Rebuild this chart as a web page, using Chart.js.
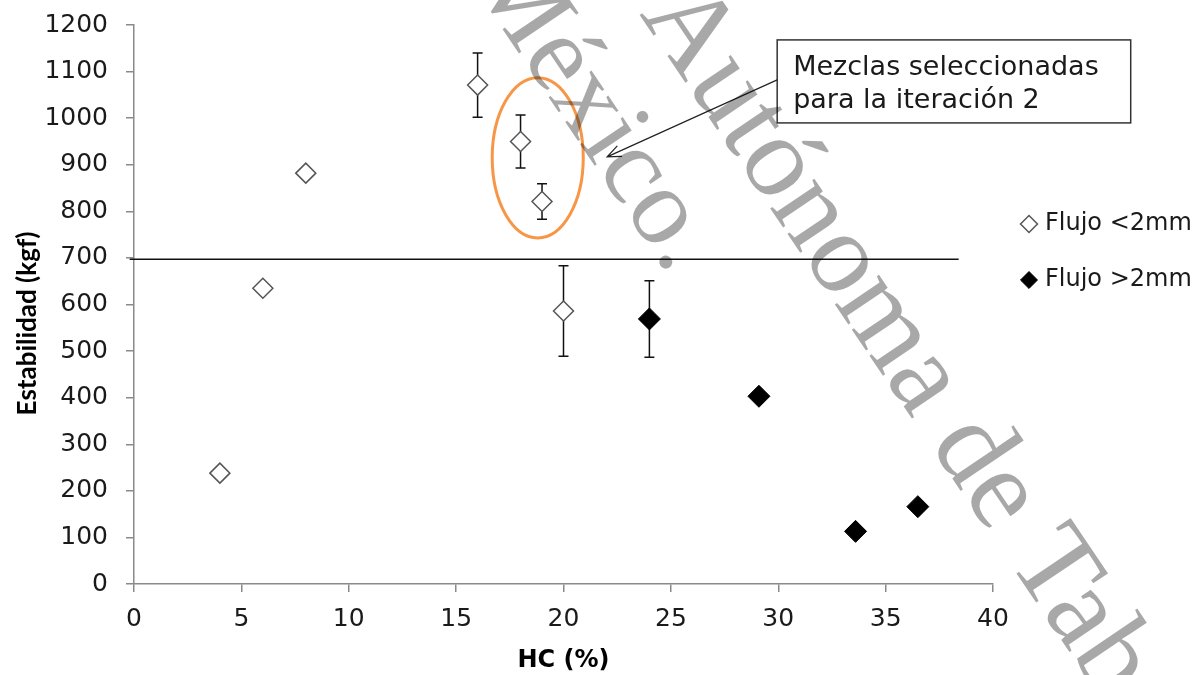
<!DOCTYPE html>
<html>
<head>
<meta charset="utf-8">
<script src="https://cdn.jsdelivr.net/npm/chart.js@4.4.0/dist/chart.umd.min.js"></script>
<style>
  html, body { margin: 0; padding: 0; background: #fff; }
  .chart-container { position: relative; width: 1199px; height: 675px; }
</style>
</head>
<body>
<div class="chart-container"><canvas id="myChart"></canvas></div>
<script>
// data
const hcLow = [4, 6, 8, 16, 18, 19, 20];
const estLow = [238, 635, 882, 1071, 950, 821, 586];
const errLow = [0, 0, 0, 69, 57, 38, 97];

const hcHigh = [24, 29.1, 33.6, 36.5];
const estHigh = [569, 403, 113, 166];
const errHigh = [82, 0, 0, 0];

const limitX = [-0.2, 38.4];
const limitY = [697, 697];

const xTickValues = [0, 5, 10, 15, 20, 25, 30, 35, 40];
const yTickValues = [0, 100, 200, 300, 400, 500, 600, 700, 800, 900, 1000, 1100, 1200];

const seriesLabels = ['Flujo <2mm', 'Flujo >2mm'];
const noteLines = ['Mezclas seleccionadas', 'para la iteración 2'];

const FONT = 'DejaVu Sans';
const TEXT = '#1a1a1a';
const AXIS = '#8a8a8a';

const toPoints = (xs, ys) => xs.map((v, i) => ({ x: v, y: ys[i] }));

const errorBars = {
  id: 'errorBars',
  beforeDatasetsDraw(chart) {
    const { ctx, scales: { x, y } } = chart;
    ctx.save();
    ctx.strokeStyle = '#111';
    ctx.lineWidth = 1.5;
    [[hcLow, estLow, errLow], [hcHigh, estHigh, errHigh]].forEach(([xs, ys, es]) => {
      xs.forEach((v, i) => {
        if (!es[i]) return;
        const px = x.getPixelForValue(v);
        const top = y.getPixelForValue(ys[i] + es[i]);
        const bot = y.getPixelForValue(ys[i] - es[i]);
        ctx.beginPath();
        ctx.moveTo(px, top); ctx.lineTo(px, bot);
        ctx.moveTo(px - 5, top); ctx.lineTo(px + 5, top);
        ctx.moveTo(px - 5, bot); ctx.lineTo(px + 5, bot);
        ctx.stroke();
      });
    });
    ctx.restore();
  }
};

// orange ellipse + callout box with arrow
const callout = {
  id: 'callout',
  afterDatasetsDraw(chart) {
    const { ctx, scales: { x, y } } = chart;
    ctx.save();
    const cx = x.getPixelForValue(18.8), cy = y.getPixelForValue(915);
    const rx = x.getPixelForValue(18.8 + 2.12) - cx;
    const ry = cy - y.getPixelForValue(915 + 172);
    ctx.beginPath();
    ctx.ellipse(cx, cy, rx, ry, 0, 0, Math.PI * 2);
    ctx.strokeStyle = '#F79646';
    ctx.lineWidth = 3;
    ctx.stroke();

    ctx.font = '27px "' + FONT + '"';
    const tw = Math.max(...noteLines.map(t => ctx.measureText(t).width));
    const bx = x.getPixelForValue(29.95), by = y.getPixelForValue(1168);
    const bw = tw + 48, bh = 83;
    ctx.fillStyle = '#fff';
    ctx.fillRect(bx, by, bw, bh);
    ctx.strokeStyle = '#333';
    ctx.lineWidth = 1.5;
    ctx.strokeRect(bx, by, bw, bh);
    ctx.fillStyle = TEXT;
    ctx.textBaseline = 'alphabetic';
    noteLines.forEach((t, i) => ctx.fillText(t, bx + 16, by + 35 + i * 33));

    const sx = bx, sy = by + 40;
    const tx = x.getPixelForValue(22.03), ty = y.getPixelForValue(917);
    ctx.strokeStyle = '#222';
    ctx.lineWidth = 1.2;
    ctx.beginPath();
    ctx.moveTo(sx, sy); ctx.lineTo(tx, ty);
    const a = Math.atan2(ty - sy, tx - sx);
    const L = 15, spread = 0.4;
    ctx.moveTo(tx - L * Math.cos(a - spread), ty - L * Math.sin(a - spread));
    ctx.lineTo(tx, ty);
    ctx.lineTo(tx - L * Math.cos(a + spread), ty - L * Math.sin(a + spread));
    ctx.stroke();
    ctx.restore();
  }
};

const watermark = {
  id: 'watermark',
  afterDraw(chart) {
    const ctx = chart.ctx;
    const ang = 56 * Math.PI / 180;
    ctx.save();
    ctx.fillStyle = 'rgba(0,0,0,0.34)';
    ctx.textBaseline = 'alphabetic';
    ctx.font = '116px "Liberation Serif"';
    ctx.save();
    ctx.translate(639, 14);
    ctx.rotate(ang);
    ctx.fillText('Autónoma de Tabasco', 0, 0);
    ctx.restore();
    ctx.font = '110px "Liberation Serif"';
    ctx.save();
    ctx.translate(466, -25);
    ctx.rotate(ang);
    ctx.fillText('México.', 0, 0);
    ctx.restore();
    ctx.restore();
  }
};

const ctx = document.getElementById('myChart');
new Chart(ctx, {
  type: 'scatter',
  data: {
    datasets: [
      {
        label: 'limite',
        data: toPoints(limitX, limitY),
        showLine: true,
        borderColor: '#111',
        borderWidth: 1.5,
        pointRadius: 0,
        clip: false
      },
      {
        label: seriesLabels[0],
        data: toPoints(hcLow, estLow),
        pointStyle: 'rectRot',
        pointRadius: 10,
        backgroundColor: '#fff',
        borderColor: '#555',
        borderWidth: 1.5
      },
      {
        label: seriesLabels[1],
        data: toPoints(hcHigh, estHigh),
        pointStyle: 'rectRot',
        pointRadius: 11,
        backgroundColor: '#000',
        borderColor: '#000',
        borderWidth: 1
      }
    ]
  },
  options: {
    responsive: true,
    maintainAspectRatio: false,
    animation: false,
    layout: { padding: { top: 25, left: 0, bottom: 0, right: 0 } },
    plugins: {
      tooltip: { enabled: false },
      legend: {
        position: 'right',
        align: 'start',
        maxWidth: 206,
        title: { display: true, text: '', padding: { top: 143, bottom: 0 }, font: { size: 10 } },
        labels: {
          usePointStyle: true,
          boxWidth: 8,
          boxHeight: 12,
          padding: 32,
          color: TEXT,
          font: { family: FONT, size: 24 },
          filter: item => item.datasetIndex > 0
        }
      }
    },
    scales: {
      x: {
        type: 'linear',
        min: 0,
        max: 40,
        afterBuildTicks: s => { s.ticks = xTickValues.map(v => ({ value: v })); },
        afterFit: s => { s.height = 91; },
        border: { display: true, color: AXIS, width: 1.5 },
        grid: { display: true, drawOnChartArea: false, tickLength: 8, color: AXIS, lineWidth: 1.5 },
        ticks: { color: TEXT, padding: 12, font: { family: FONT, size: 25 }, callback: v => String(v) },
        title: {
          display: true, text: 'HC (%)', color: '#000',
          font: { family: FONT, size: 24, weight: 'bold' },
          padding: { top: 0, bottom: 0 }
        }
      },
      y: {
        type: 'linear',
        min: 0,
        max: 1200,
        afterBuildTicks: s => { s.ticks = yTickValues.map(v => ({ value: v })); },
        afterFit: s => { s.width = 134; s.paddingTop = 8; s.paddingBottom = 8; },
        border: { display: true, color: AXIS, width: 1.5 },
        grid: { display: true, drawOnChartArea: false, tickLength: 8, color: AXIS, lineWidth: 1.5 },
        ticks: { color: TEXT, padding: 18, font: { family: FONT, size: 25 }, callback: v => String(v) },
        title: {
          display: true, text: 'Estabilidad (kgf)      ', color: '#000',
          font: { family: 'Lato', size: 26, weight: 'bold' },
          padding: { top: 12, bottom: 0 }
        }
      }
    }
  },
  plugins: [errorBars, callout, watermark]
});
</script>
</body>
</html>
